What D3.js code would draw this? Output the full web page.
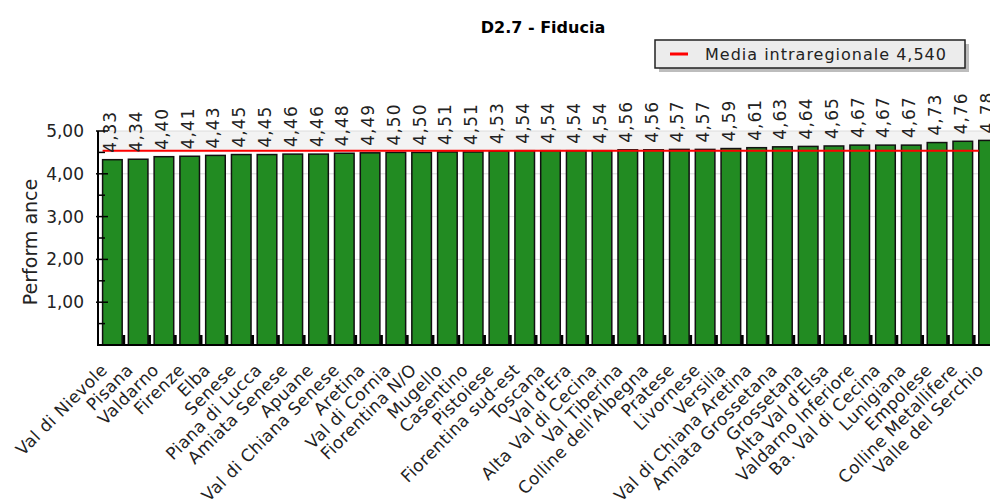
<!DOCTYPE html>
<html><head><meta charset="utf-8">
<script src="https://cdn.jsdelivr.net/npm/d3@7"></script>
<style>body{margin:0;background:#fff}svg{display:block}text{font-family:"DejaVu Sans",Verdana,sans-serif}</style>
</head><body><svg id="c" width="990" height="499"></svg>
<script>
const categories = ["Val di Nievole","Pisana","Valdarno","Firenze","Elba","Senese","Piana di Lucca","Amiata Senese","Apuane","Val di Chiana Senese","Aretina","Val di Cornia","Fiorentina N/O","Mugello","Casentino","Pistoiese","Fiorentina sud-est","Toscana","Val d'Era","Alta Val di Cecina","Val Tiberina","Colline dell'Albegna","Pratese","Livornese","Versilia","Val di Chiana Aretina","Amiata Grossetana","Grossetana","Alta Val d'Elsa","Valdarno Inferiore","Ba. Val di Cecina","Lunigiana","Empolese","Colline Metallifere","Valle del Serchio"];
const values = [4.33,4.34,4.40,4.41,4.43,4.45,4.45,4.46,4.46,4.48,4.49,4.50,4.50,4.51,4.51,4.53,4.54,4.54,4.54,4.54,4.56,4.56,4.57,4.57,4.59,4.61,4.63,4.64,4.65,4.67,4.67,4.67,4.73,4.76,4.78];
const mediaValue = 4.540;
const yTicks = [1,2,3,4,5];
const yMinorTicks = [0.5,1.5,2.5,3.5,4.5];
const title = "D2.7 - Fiducia";
const legendLabel = "Media intraregionale 4,540";
const yTitle = "Perform ance";

(function(){
const svg = d3.select("#c");
const fmt = v => d3.format(".2f")(v).replace(".", ",");
const pLeft = 98, pTop = 131, pBottom = 345;
const step = 25.77;
const x = d3.scaleBand().domain(categories).range([99.5, 99.5 + step*35]).paddingInner(0.24).paddingOuter(0.12);
const y = d3.scaleLinear().domain([0,5]).range([pBottom, pTop]);

svg.append("rect").attr("x", pLeft).attr("y", y(5)).attr("width", 990-pLeft).attr("height", y(4.5)-y(5)).attr("fill", "#f3f3f3");
svg.append("g").selectAll("line").data(yTicks).join("line")
  .attr("x1", pLeft).attr("x2", 990).attr("y1", d=>y(d)).attr("y2", d=>y(d))
  .attr("stroke", "#dcdcdc").attr("stroke-width", 1);

svg.append("g").selectAll("rect").data(values).join("rect")
  .attr("x", (d,i)=>x(categories[i]) + x.bandwidth()).attr("y", pBottom-10)
  .attr("width", 3).attr("height", 10).attr("fill", "#000");
svg.append("g").selectAll("rect").data(values).join("rect")
  .attr("x", (d,i)=>x(categories[i])).attr("y", d=>y(d))
  .attr("width", x.bandwidth()).attr("height", d=>pBottom-y(d))
  .attr("fill", "#228b22").attr("stroke", "#111").attr("stroke-width", 1.5);

svg.append("line").attr("x1", x(categories[0])).attr("x2", x(categories[categories.length-1]))
  .attr("y1", y(mediaValue)).attr("y2", y(mediaValue)).attr("stroke", "#ff0000").attr("stroke-width", 2);

svg.append("g").selectAll("text").data(values).join("text")
  .attr("transform", (d,i)=>`translate(${x(categories[i]) + x.bandwidth()/2 + 4},${y(d)-7}) rotate(-90)`)
  .attr("font-size", 17).attr("letter-spacing", 1).attr("fill", "#222").text(d=>fmt(d));

const yAxis = d3.axisLeft(y).tickValues(yTicks).tickSize(0).tickPadding(14).tickFormat(fmt);
const ga = svg.append("g").attr("transform", `translate(${pLeft},0)`).call(yAxis);
ga.select(".domain").remove();
ga.selectAll("text").attr("font-size", 17).attr("fill", "#222").attr("font-family", "DejaVu Sans");
svg.append("g").selectAll("line").data(yTicks).join("line")
  .attr("x1", pLeft-2).attr("x2", pLeft+10).attr("y1", d=>y(d)).attr("y2", d=>y(d)).attr("stroke", "#000").attr("stroke-width", 1.5);
svg.append("g").selectAll("line").data(yMinorTicks).join("line")
  .attr("x1", pLeft).attr("x2", pLeft+7).attr("y1", d=>y(d)).attr("y2", d=>y(d)).attr("stroke", "#000").attr("stroke-width", 1.5);
svg.append("line").attr("x1", pLeft).attr("x2", pLeft).attr("y1", pTop).attr("y2", pBottom+1).attr("stroke", "#000").attr("stroke-width", 2);
svg.append("line").attr("x1", pLeft).attr("x2", 990).attr("y1", pBottom).attr("y2", pBottom).attr("stroke", "#000").attr("stroke-width", 2);

svg.append("g").selectAll("text").data(categories).join("text")
  .attr("transform", d=>`translate(${x(d)+x.bandwidth()/2-4},${pBottom+26}) rotate(-45)`)
  .attr("text-anchor", "end").attr("font-size", 17).attr("letter-spacing", 0.4).attr("fill", "#222").text(d=>d);

svg.append("text").attr("transform", `translate(37,${(pTop+pBottom)/2 + 4}) rotate(-90)`)
  .attr("text-anchor", "middle").attr("font-size", 19).attr("fill", "#222").text(yTitle);

svg.append("text").attr("x", 543).attr("y", 33).attr("text-anchor", "middle")
  .attr("font-size", 16).attr("font-weight", "bold").attr("fill", "#000").text(title);

svg.append("rect").attr("x", 659).attr("y", 44).attr("width", 310).attr("height", 28).attr("fill", "#bdbdbd");
svg.append("rect").attr("x", 655).attr("y", 40).attr("width", 310).attr("height", 28).attr("fill", "#ececec").attr("stroke", "#222").attr("stroke-width", 1.5);
svg.append("line").attr("x1", 670).attr("x2", 688).attr("y1", 54).attr("y2", 54).attr("stroke", "#ff0000").attr("stroke-width", 3);
svg.append("text").attr("x", 705).attr("y", 60).attr("font-size", 16).attr("letter-spacing", 1).attr("fill", "#222").text(legendLabel);
})();
</script></body></html>
